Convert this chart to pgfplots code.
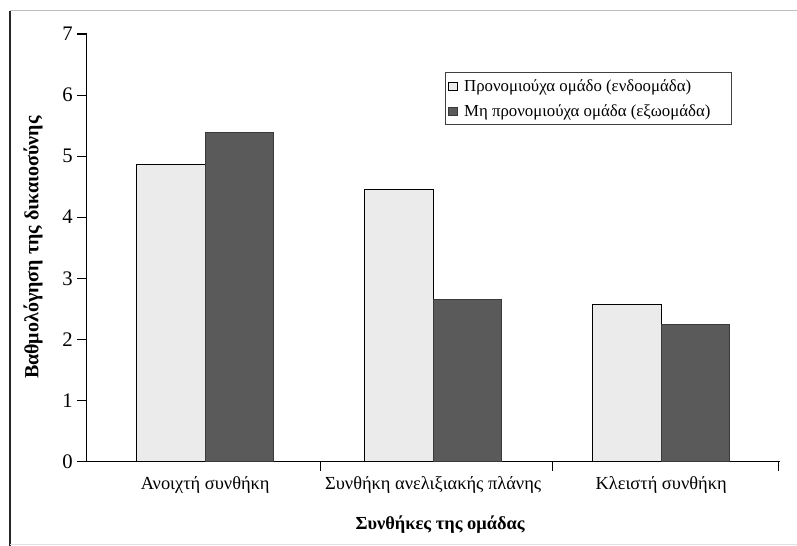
\documentclass[border=0pt]{standalone}
\usepackage{fontspec}
\setmainfont{Liberation Serif}
\usepackage{pgfplots}
\pgfplotsset{compat=1.18}
\definecolor{lightbar}{HTML}{EBEBEB}
\definecolor{darkbar}{HTML}{5A5A5A}
\definecolor{darkedge}{HTML}{3A3A3A}
\begin{document}
\begin{tikzpicture}
\useasboundingbox (0,0) rectangle (597.75pt,409.5pt);
\draw[line width=1pt, black!85] (7.5pt,0) -- (7.5pt,401.5pt);
\draw[line width=0.8pt, black!25] (7.5pt,401.5pt) -- (597.75pt,401.5pt);
\draw[line width=0.6pt, black!12] (7.5pt,1.5pt) -- (597.75pt,1.5pt);
\begin{axis}[
  at={(65pt,63.4pt)}, anchor=south west,
  scale only axis, width=519.75pt, height=320.6pt,
  xmin=-0.52, xmax=2.52, ymin=0, ymax=7,
  axis x line=bottom, axis y line=left,
  axis line style={-, line width=0.8pt, black},
  /pgf/number format/assume math mode=true,
  ytick={0,1,2,3,4,5,6,7},
  tick align=outside,
  major tick length=7pt,
  tick style={line width=0.8pt, black},
  xtick={0.504,1.522,2.515},
  xticklabels={},
  extra x ticks={0,1,2},
  extra x tick labels={Ανοιχτή συνθήκη, Συνθήκη ανελιξιακής πλάνης, Κλειστή συνθήκη},
  extra x tick style={major tick length=0pt},
  xticklabel style={font=\fontsize{13.8}{15}\selectfont, anchor=center, yshift=-17.6pt},
  yticklabel style={font=\fontsize{15.5}{17}\selectfont},
  ylabel={\bfseries Βαθμολόγηση της δικαιοσύνης},
  ylabel style={at={(axis description cs:-0.0775,0.5)}, anchor=center, font=\fontsize{15}{17}\selectfont},
  xlabel={\bfseries Συνθήκες της ομάδας},
  xlabel style={at={(axis description cs:0.51,-0.1485)}, anchor=center, font=\fontsize{13.8}{15}\selectfont},
  legend style={at={(axis description cs:0.517,0.911)}, anchor=north west,
    draw=black!75, line width=0.8pt, font=\fontsize{12.6}{14}\selectfont,
    row sep=4.5pt, inner xsep=2pt, inner ysep=3pt},
  legend cell align=left,
  legend image code/.code={\draw[#1, line width=0.6pt] (0pt,-3.2pt) rectangle (6.4pt,3.2pt);},
]
\addplot[ybar, bar width=0.3, bar shift=-0.15, fill=lightbar, draw=black, line width=0.8pt]
  coordinates {(0,4.86) (1,4.45) (2,2.57)};
\addlegendentry{\hspace*{3pt}Προνομιούχα ομάδο (ενδοομάδα)}
\addplot[ybar, bar width=0.3, bar shift=0.15, fill=darkbar, draw=darkedge, line width=0.8pt]
  coordinates {(0,5.38) (1,2.65) (2,2.24)};
\addlegendentry{\hspace*{3pt}Μη προνομιούχα ομάδα (εξωομάδα)\hspace*{12pt}}
\end{axis}
\end{tikzpicture}
\end{document}
